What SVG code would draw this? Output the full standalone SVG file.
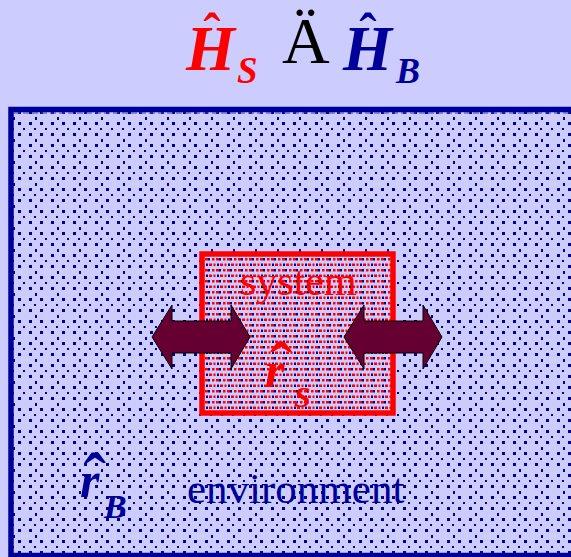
<svg xmlns="http://www.w3.org/2000/svg" width="571" height="557" viewBox="0 0 571 557">
<style>
.bi{font-family:"Liberation Serif","Times New Roman",serif;font-weight:bold;font-style:italic}
.rg{font-family:"Liberation Serif","Times New Roman",serif}
.hat{font-family:"Liberation Serif","Times New Roman",serif;font-weight:bold;text-anchor:middle}
.red{fill:#FF0000}
.navy{fill:#000099}
.arrow{fill:#660033;stroke:#000000;stroke-width:1}
</style>
<defs>
<pattern id="envDots" patternUnits="userSpaceOnUse" x="18" y="117" width="22" height="22">
<rect x="0" y="5" width="3" height="3" fill="#000099"/>
<rect x="11" y="5" width="3" height="3" fill="#000099"/>
<rect x="0" y="16" width="3" height="3" fill="#000099"/>
<rect x="11" y="16" width="3" height="3" fill="#000099"/>
<rect x="5" y="11" width="2" height="2" fill="#000099"/>
<rect x="16" y="11" width="2" height="2" fill="#000099"/>
<rect x="17" y="0" width="2" height="3" fill="#000099"/>
</pattern>
<pattern id="sysDots" patternUnits="userSpaceOnUse" x="205" y="258" width="11" height="11">
<rect x="0" y="0" width="3" height="2.5" fill="#FF0000"/>
<rect x="3" y="0" width="2" height="2.5" fill="#000099"/>
<rect x="7" y="0" width="2.5" height="2.5" fill="#FF0000"/>
<rect x="1" y="5.5" width="2" height="2.5" fill="#000099"/>
<rect x="4" y="5.5" width="3" height="2.5" fill="#FF0000"/>
<rect x="8.5" y="5.5" width="2" height="2.5" fill="#FF0000"/>
</pattern>
</defs>
<rect x="0" y="0" width="571" height="557" fill="#CCCCFF"/>
<g id="title">
<text class="bi red" x="186" y="70" font-size="63">H</text>
<text class="hat red" x="212" y="50" font-size="52">ˆ</text>
<text class="bi red" x="237" y="83" font-size="37">S</text>
<text class="rg" x="282" y="63" font-size="66" fill="#000000">Ä</text>
<text class="bi navy" x="343" y="70" font-size="63">H</text>
<text class="hat navy" x="368" y="50" font-size="52">ˆ</text>
<text class="bi navy" x="396" y="83" font-size="36">B</text>
</g>
<g id="environment">
<rect x="11" y="109.5" width="564" height="446" fill="#CCCCFF" stroke="none"/>
<rect x="11" y="109.5" width="564" height="446" fill="url(#envDots)" stroke="#000099" stroke-width="5.5"/>
<line x1="14" y1="113" x2="571" y2="113" stroke="#3A3AB0" stroke-width="1.2" stroke-dasharray="6 3"/>
<text class="bi navy" x="80" y="497" font-size="50">r</text>
<text class="hat navy" x="95" y="499" font-size="66">ˆ</text>
<text class="bi navy" x="104" y="518" font-size="34">B</text>
<text class="rg navy" x="187" y="503" font-size="43">environment</text>
</g>
<g id="system">
<rect x="202" y="254" width="191" height="159" fill="#CCCCFF"/>
<rect x="202" y="254" width="191" height="159" fill="url(#sysDots)" stroke="#FF0000" stroke-width="5.5"/>
<text class="rg red" x="240" y="295" font-size="42">system</text>
<text class="bi red" x="265" y="387" font-size="50">r</text>
<text class="hat red" x="281" y="388" font-size="66">ˆ</text>
<text class="bi red" x="294" y="407" font-size="30">S</text>
</g>
<g id="connectors">
<polygon class="arrow" points="152,337 172,305 172,321 231,321 231,305 250,337 231,369 231,353 172,353 172,369"/>
<polygon class="arrow" points="344,337 364,305 364,321 423,321 423,305 442,337 423,369 423,353 364,353 364,369"/>
</g>
</svg>
